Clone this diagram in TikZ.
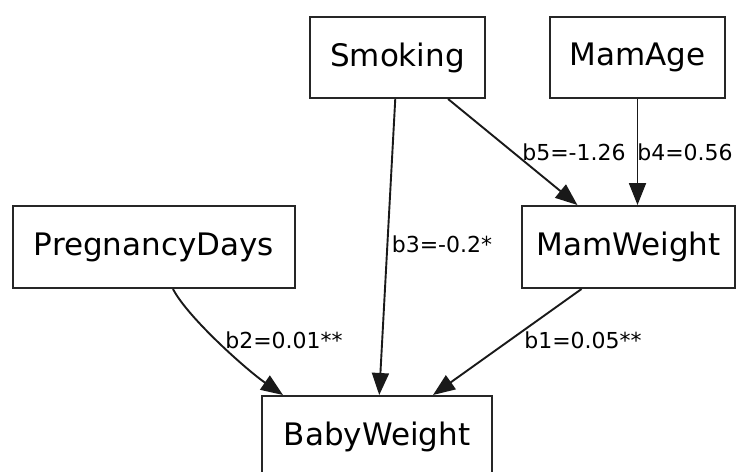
\documentclass[tikz,border=0pt]{standalone}
\usepackage{fontspec}
\setmainfont{DejaVu Sans}
\usetikzlibrary{arrows.meta}
\tikzset{
  box/.style={draw=black!85, line width=2pt, inner sep=0pt, font=\fontsize{31}{36}\selectfont},
  edge/.style={draw=black!90, line width=1.9pt, -{Triangle[length=22pt,width=17pt]}},
  lbl/.style={inner sep=0pt, font=\fontsize{22}{26}\selectfont}
}
\begin{document}
\begin{tikzpicture}[x=1pt,y=-1pt]
\useasboundingbox (0,0) rectangle (743,471);
\clip (0,0) rectangle (743,471);
\fill[white] (0,0) rectangle (743,471);
\node[box, minimum width=175pt, minimum height=81pt] (smok) at (397.5,57.5) {Smoking};
\node[box, minimum width=175pt, minimum height=81pt] (age) at (637.5,57.5) {MamAge};
\node[box, minimum width=282pt, minimum height=82pt] (preg) at (154,247) {PregnancyDays};
\node[box, minimum width=213pt, minimum height=82pt] (mamw) at (628.5,247) {MamWeight};
\node[box, minimum width=230pt, minimum height=81pt] (baby) at (377,436.5) {BabyWeight};
\draw[edge] (smok) -- (baby);
\draw[edge] (smok) -- (mamw);
\draw[edge] (age.south) -- (age.south |- mamw.north);
\draw[edge] ([xshift=-47pt]mamw.south) -- ([xshift=56pt]baby.north);
\draw[edge] ([xshift=19pt]preg.south) .. controls (188,318) and (248,371) .. ([xshift=-94pt]baby.north);
\node[lbl] (l5) at (574,152) {b5=-1.26};
\node[lbl] (l4) at (685,152) {b4=0.56};
\node[lbl] (l3) at (442,244) {b3=-0.2*};
\node[lbl] (l2) at (284,340) {b2=0.01**};
\node[lbl] (l1) at (583,340) {b1=0.05**};
\end{tikzpicture}
\end{document}
